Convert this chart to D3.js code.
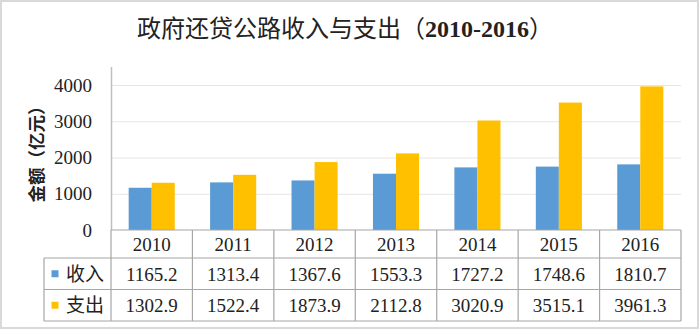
<!DOCTYPE html>
<html><head><meta charset="utf-8">
<script src="https://cdn.jsdelivr.net/npm/d3@7/dist/d3.min.js"></script>
<style>body{margin:0;background:#fff;}svg{display:block;}</style>
</head><body>
<svg id="c" width="700" height="331"></svg>
<script>
const years = ["2010","2011","2012","2013","2014","2015","2016"];
const income = [1165.2,1313.4,1367.6,1553.3,1727.2,1748.6,1810.7];
const expense = [1302.9,1522.4,1873.9,2112.8,3020.9,3515.1,3961.3];
const seriesNames = ["收入","支出"];
const yTicks = [0,1000,2000,3000,4000];
const colors = ["#5B9BD5","#FFC000"];

const svg = d3.select("#c");
const serif = "'Liberation Serif','Times New Roman',serif";
const cjk = "'Noto Sans CJK SC','Noto Sans',sans-serif";

// outer frame
svg.append("rect").attr("x",1).attr("y",1).attr("width",697).attr("height",327)
  .attr("fill","#fff").attr("stroke","#d9d9d9").attr("stroke-width",2);

const L=111, R=681, T=67, B=230;
const x = d3.scaleBand().domain(years).range([L,R]);
const y = d3.scaleLinear().domain([0,4000]).range([B,85]);

// title
const title = svg.append("text").attr("x",345).attr("y",37).attr("text-anchor","middle")
  .style("font-size","24px").attr("fill","#222");
title.append("tspan").style("font-family",cjk).text("政府还贷公路收入与支出（");
title.append("tspan").style("font-family",serif).attr("font-weight","bold").text("2010-2016");
title.append("tspan").style("font-family",cjk).text("）");

// gridlines
svg.append("g").selectAll("line").data(yTicks.filter(d=>d>0)).join("line")
  .attr("x1",L).attr("x2",R).attr("y1",d=>y(d)+0.5).attr("y2",d=>y(d)+0.5)
  .attr("stroke","#e6e6e6").attr("stroke-width",1.2);

// y axis
const yAxis = d3.axisLeft(y).tickValues(yTicks).tickSize(0).tickPadding(19).tickFormat(d3.format("d"));
const gy = svg.append("g").attr("transform",`translate(${L},0)`).call(yAxis);
gy.select(".domain").remove();
gy.selectAll("text").style("font-family",serif).style("font-size","19px").attr("fill","#222");
svg.append("line").attr("x1",L+0.5).attr("x2",L+0.5).attr("y1",T).attr("y2",B)
  .attr("stroke","#bfbfbf").attr("stroke-width",1.5);

// y title
svg.append("text").attr("transform","translate(43,150) rotate(-90)")
  .attr("text-anchor","middle").style("font-family",serif+","+cjk)
  .style("font-size","17.5px").attr("font-weight","bold").attr("fill","#222").text("金额（亿元）");

// bars
const bw = x.bandwidth()*0.283;
const data = [income, expense];
data.forEach((vals,si)=>{
  svg.append("g").selectAll("rect").data(vals).join("rect")
    .attr("x",(d,i)=>x(years[i]) + x.bandwidth()/2 - bw + si*bw)
    .attr("width",bw)
    .attr("y",d=>y(d)).attr("height",d=>y(0)-y(d))
    .attr("fill",colors[si]);
});

// data table
const r1=B, r2=258, r3=289.5, r4=321, TL=44;
const tg = svg.append("g").attr("stroke","#a6a6a6").attr("stroke-width",1.2).attr("fill","none");
tg.append("line").attr("x1",L).attr("x2",R).attr("y1",r1).attr("y2",r1);
[r2,r3,r4].forEach(v=>tg.append("line").attr("x1",TL).attr("x2",R).attr("y1",v).attr("y2",v));
tg.append("line").attr("x1",TL).attr("x2",TL).attr("y1",r2).attr("y2",r4);
years.forEach(yr=>tg.append("line").attr("x1",x(yr)).attr("x2",x(yr)).attr("y1",r1).attr("y2",r4));
tg.append("line").attr("x1",R).attr("x2",R).attr("y1",r1).attr("y2",r4);

// year labels
svg.append("g").selectAll("text").data(years).join("text")
  .attr("x",d=>x(d)+x.bandwidth()/2).attr("y",(r1+r2)/2+7)
  .attr("text-anchor","middle").style("font-family",serif).style("font-size","19px").attr("fill","#222")
  .text(d=>d);

// values
const rowsY=[(r2+r3)/2, (r3+r4)/2];
data.forEach((vals,si)=>{
  svg.append("g").selectAll("text").data(vals).join("text")
    .attr("x",(d,i)=>x(years[i])+x.bandwidth()/2).attr("y",rowsY[si]+7)
    .attr("text-anchor","middle").style("font-family",serif).style("font-size","19px").attr("fill","#222")
    .text(d=>d.toFixed(1));
  svg.append("rect").attr("x",51.5).attr("y",rowsY[si]-3.5).attr("width",7).attr("height",7)
    .attr("fill",colors[si]);
  svg.append("text").attr("x",66).attr("y",rowsY[si]+7).style("font-family",cjk)
    .style("font-size","19px").attr("fill","#222").text(seriesNames[si]);
});
</script>
</body></html>
